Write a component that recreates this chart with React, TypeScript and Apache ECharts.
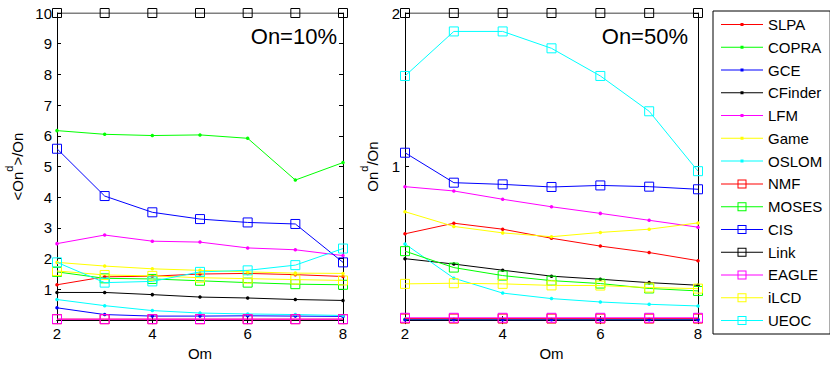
import React, { useEffect, useRef } from "react";
import * as echarts from "echarts";

const om = [2, 3, 4, 5, 6, 7, 8];

const names = ["SLPA", "COPRA", "GCE", "CFinder", "LFM", "Game", "OSLOM", "NMF", "MOSES", "CIS", "Link", "EAGLE", "iLCD", "UEOC"];
const colors = ["#ff0000", "#00ff00", "#0000ff", "#000000", "#ff00ff", "#ffff00", "#00ffff", "#ff0000", "#00ff00", "#0000ff", "#000000", "#ff00ff", "#ffff00", "#00ffff"];
const squareMarker = [false, false, false, false, false, false, false, true, true, true, true, true, true, true];

// On = 10%
const left10: number[][] = [
  [1.15, 1.41, 1.43, 1.5, 1.52, 1.48, 1.42],
  [6.17, 6.05, 6.01, 6.03, 5.92, 4.56, 5.13],
  [0.4, 0.18, 0.13, 0.13, 0.14, 0.13, 0.12],
  [0.9, 0.9, 0.83, 0.75, 0.72, 0.67, 0.64],
  [2.49, 2.77, 2.57, 2.54, 2.35, 2.29, 2.1],
  [1.88, 1.76, 1.67, 1.62, 1.57, 1.53, 1.52],
  [0.67, 0.47, 0.31, 0.23, 0.2, 0.18, 0.15],
  [0.03, 0.03, 0.03, 0.03, 0.03, 0.03, 0.03],
  [1.57, 1.36, 1.34, 1.28, 1.22, 1.17, 1.15],
  [5.58, 4.04, 3.51, 3.29, 3.18, 3.13, 1.88],
  [10, 10, 10, 10, 10, 10, 10],
  [0.03, 0.03, 0.03, 0.03, 0.03, 0.03, 0.03],
  [1.6, 1.47, 1.44, 1.38, 1.35, 1.32, 1.29],
  [1.88, 1.22, 1.26, 1.57, 1.62, 1.79, 2.33],
];

// On = 50%
const right50: number[][] = [
  [0.562, 0.631, 0.592, 0.533, 0.482, 0.44, 0.387],
  [0.005, 0.005, 0.005, 0.005, 0.005, 0.005, 0.005],
  [0.002, 0.002, 0.002, 0.002, 0.002, 0.002, 0.002],
  [0.4, 0.365, 0.325, 0.286, 0.266, 0.244, 0.227],
  [0.869, 0.841, 0.787, 0.738, 0.695, 0.65, 0.605],
  [0.706, 0.61, 0.568, 0.543, 0.571, 0.592, 0.633],
  [0.496, 0.273, 0.176, 0.14, 0.118, 0.103, 0.092],
  [0.01, 0.01, 0.01, 0.01, 0.01, 0.01, 0.01],
  [0.449, 0.342, 0.29, 0.257, 0.238, 0.206, 0.19],
  [1.09, 0.895, 0.884, 0.867, 0.877, 0.869, 0.852],
  [2, 2, 2, 2, 2, 2, 2],
  [0.015, 0.015, 0.015, 0.015, 0.015, 0.015, 0.015],
  [0.236, 0.24, 0.236, 0.226, 0.225, 0.212, 0.205],
  [1.59, 1.88, 1.88, 1.77, 1.59, 1.36, 0.97],
];

const panelTitles = ["On=10%", "On=50%"];

const FONT = "'Liberation Sans', Arial, sans-serif";

const DOT_ICON = "path://M0 6.5 H42 V7.5 H0 Z M19.5 5.5 H22.5 V8.5 H19.5 Z";
const SQUARE_ICON = "path://M0 6.5 H42 V7.5 H0 Z M16.5 2.5 H25.5 V11.5 H16.5 Z M17.5 3.5 V10.5 H24.5 V3.5 Z";

export default function App() {
  const ref = useRef<HTMLDivElement>(null);
  useEffect(() => {
    if (!ref.current) return;
    const chart = echarts.init(ref.current, undefined, { renderer: "svg" });
    const txt = { color: "#000", fontFamily: FONT, fontSize: 15 };
    const grids = [
      { left: 57, top: 13, width: 286, height: 311 },
      { left: 405, top: 13, width: 293, height: 311 },
    ];
    const xAxes: any[] = [];
    const yAxes: any[] = [];
    [0, 1].forEach((g) => {
      xAxes.push({
        type: "value", gridIndex: g, min: 2, max: 8, interval: 2, position: "bottom",
        name: "Om", nameLocation: "middle", nameGap: 24, nameTextStyle: { ...txt },
        axisLine: { lineStyle: { color: "#000", width: 1 } },
        axisTick: { inside: true, length: 4, lineStyle: { color: "#000" } },
        axisLabel: { ...txt, margin: 6 }, splitLine: { show: false },
      });
      xAxes.push({
        type: "value", gridIndex: g, min: 2, max: 8, interval: 2, position: "top",
        axisLine: { lineStyle: { color: "#000", width: 1 } },
        axisTick: { inside: true, length: 4, lineStyle: { color: "#000" } },
        axisLabel: { show: false }, splitLine: { show: false },
      });
      const ymax = g === 0 ? 10 : 2;
      yAxes.push({
        type: "value", gridIndex: g, min: 0, max: ymax, interval: 1, position: "left",
        name: g === 0 ? "{a|<On}{s|d}{a|>/On}" : "{a|On}{s|d}{a|/On}",
        nameLocation: "middle", nameGap: g === 0 ? 32 : 25, nameRotate: 90,
        nameTextStyle: {
          rich: {
            a: { ...txt, fontSize: 15, lineHeight: 22, verticalAlign: "bottom" },
            s: { ...txt, fontSize: 11, lineHeight: 11, verticalAlign: "top" },
          },
        },
        axisLine: { lineStyle: { color: "#000", width: 1 } },
        axisTick: { inside: true, length: 4, lineStyle: { color: "#000" } },
        axisLabel: { ...txt, margin: 5, showMinLabel: false },
        splitLine: { show: false },
      });
      yAxes.push({
        type: "value", gridIndex: g, min: 0, max: ymax, interval: 1, position: "right",
        axisLine: { lineStyle: { color: "#000", width: 1 } },
        axisTick: { inside: true, length: 4, lineStyle: { color: "#000" } },
        axisLabel: { show: false }, splitLine: { show: false },
      });
    });

    const series: any[] = [];
    [left10, right50].forEach((panel, g) => {
      panel.forEach((vals, i) => {
        const sq = squareMarker[i];
        series.push({
          name: names[i],
          type: "line",
          xAxisIndex: g * 2,
          yAxisIndex: g * 2,
          data: vals.map((v, k) => [om[k], v]),
          symbol: sq ? "rect" : "circle",
          symbolSize: sq ? 9 : 3.5,
          showSymbol: true,
          lineStyle: { color: colors[i], width: 1 },
          itemStyle: sq
            ? { color: "rgba(255,255,255,0)", borderColor: colors[i], borderWidth: 1 }
            : { color: colors[i], borderWidth: 0 },
          emphasis: { disabled: true },
          z: 2 + i,
        });
      });
    });

    chart.setOption({
      animation: false,
      backgroundColor: "#fff",
      grid: grids,
      xAxis: xAxes,
      yAxis: yAxes,
      legend: {
        data: names.map((n, i) => ({
          name: n,
          icon: squareMarker[i] ? SQUARE_ICON : DOT_ICON,
          itemStyle: { color: colors[i], borderWidth: 0, borderColor: colors[i] },
        })),
        orient: "vertical",
        left: 713,
        top: 11,
        itemWidth: 42,
        itemHeight: 14,
        itemGap: 7.77,
        padding: [6, 8, 6, 8],
        borderColor: "#000",
        borderWidth: 1,
        textStyle: { ...txt, fontSize: 15 },
        selectedMode: false,
      },
      graphic: [
        { type: "text", right: 830 - 337, top: 25, style: { text: panelTitles[0], fill: "#000", font: `22px ${FONT}` } },
        { type: "text", right: 830 - 688, top: 25, style: { text: panelTitles[1], fill: "#000", font: `22px ${FONT}` } },
      ],
      series,
    });
    return () => chart.dispose();
  }, []);
  return <div ref={ref} style={{ position: "fixed", left: 0, top: 0, width: 830, height: 366 }} />;
}
